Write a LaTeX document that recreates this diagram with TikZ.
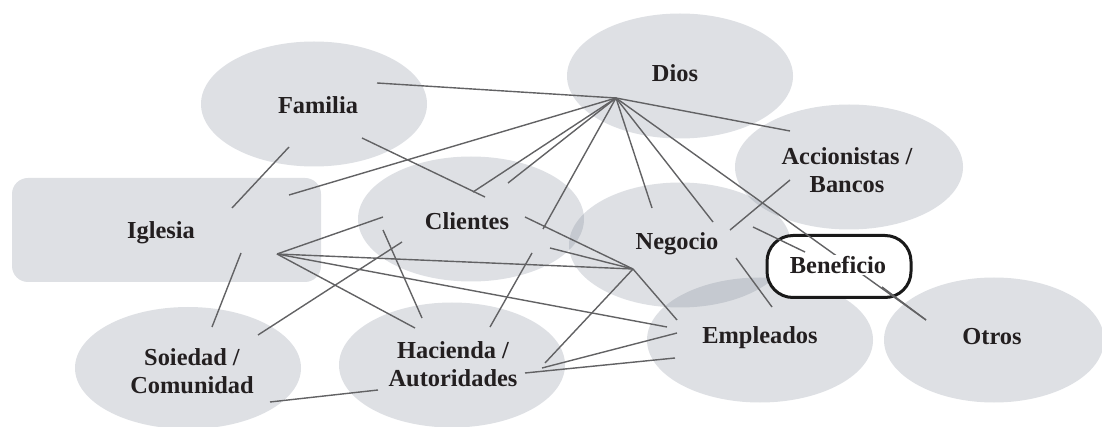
\documentclass[tikz,border=0pt]{standalone}
\usepackage{fontspec}
\setmainfont{Liberation Serif}
\usetikzlibrary{shapes.geometric}
\definecolor{blobc}{RGB}{117,126,142}
\definecolor{ink}{RGB}{35,31,32}
\definecolor{wirec}{RGB}{98,98,100}
\begin{document}
\begin{tikzpicture}[x=1pt,y=-1pt,
  blob/.style={ellipse, fill=blobc, fill opacity=0.24, text opacity=1, minimum width=226pt, minimum height=125pt, inner sep=0pt},
  lab/.style={font=\bfseries\fontsize{24.4}{27.5}\selectfont, text=ink, align=center, inner sep=0pt},
  wire/.style={draw=wirec, line width=1.4pt}]
\useasboundingbox (0,0) rectangle (1102,427);
% shapes
\node[blob] (diosE) at (680,76) {};
\node[blob] (familiaE) at (314,104) {};
\node[blob, minimum width=228pt] (accE) at (849,167) {};
\node[rectangle, rounded corners=16pt, fill=blobc, fill opacity=0.24, minimum width=309pt, minimum height=104pt, inner sep=0pt] (iglesiaR) at (166.5,230) {};
\node[blob] (clientesE) at (471,219) {};
\node[blob, minimum width=222pt] (negocioE) at (680,245) {};
\node[blob] (empleadosE) at (760,340) {};
\node[blob, minimum width=220pt] (otrosE) at (994,340) {};
\node[blob, minimum height=122pt] (soiedadE) at (188,368) {};
\node[blob] (haciendaE) at (452,365) {};
\node[rectangle, rounded corners=26pt, draw=black!90, line width=3pt, fill=white, minimum width=144pt, minimum height=62pt, inner sep=0pt] (benefBox) at (839,266.5) {};
% connector ends
\coordinate (hD) at (616,98);
\coordinate (hI) at (277,254);
\coordinate (hN) at (633,269);
\coordinate (fD) at (377,83);
\coordinate (iD) at (289,195);
\coordinate (cD1) at (473,192);
\coordinate (cD2) at (508,183);
\coordinate (cD3) at (543,229);
\coordinate (nD1) at (652,208);
\coordinate (nD2) at (713,222);
\coordinate (aD) at (790,131);
\coordinate (oT) at (926,320);
\coordinate (fI1) at (289,147);
\coordinate (fI2) at (232,208);
\coordinate (fC1) at (362,138);
\coordinate (fC2) at (485,197);
\coordinate (cI) at (383,217);
\coordinate (eI) at (667,327);
\coordinate (hI2) at (415,328);
\coordinate (iS1) at (241,253);
\coordinate (iS2) at (212,327);
\coordinate (cH1) at (383,230);
\coordinate (cH2) at (422,318);
\coordinate (cS1) at (402,242);
\coordinate (cS2) at (258,335);
\coordinate (cH3) at (532,253);
\coordinate (cH4) at (490,327);
\coordinate (cN1) at (525,217);
\coordinate (cN2) at (550,248);
\coordinate (hN2) at (545,363);
\coordinate (eN) at (677,320);
\coordinate (hE1) at (542,368);
\coordinate (eH1) at (677,333);
\coordinate (hE2) at (525,373);
\coordinate (eH2) at (675,358);
\coordinate (sH1) at (270,402);
\coordinate (sH2) at (378,390);
\coordinate (nA1) at (730,230);
\coordinate (nA2) at (790,180);
\coordinate (nB1) at (753,227);
\coordinate (nB2) at (805,252);
\coordinate (nE1) at (736,258);
\coordinate (nE2) at (772,307);
\coordinate (bO) at (882,287);
% connectors
\draw[wire] (hD) -- (fD);
\draw[wire] (hD) -- (iD);
\draw[wire] (hD) -- (cD1);
\draw[wire] (hD) -- (cD2);
\draw[wire] (hD) -- (cD3);
\draw[wire] (hD) -- (nD1);
\draw[wire] (hD) -- (nD2);
\draw[wire] (hD) -- (aD);
\draw[wire] (hD) -- (oT);
\draw[wire] (fI1) -- (fI2);
\draw[wire] (fC1) -- (fC2);
\draw[wire] (hI) -- (cI);
\draw[wire] (hI) -- (hN);
\draw[wire] (hI) -- (eI);
\draw[wire] (hI) -- (hI2);
\draw[wire] (iS1) -- (iS2);
\draw[wire] (cH1) -- (cH2);
\draw[wire] (cS1) -- (cS2);
\draw[wire] (cH3) -- (cH4);
\draw[wire] (cN1) -- (hN);
\draw[wire] (cN2) -- (hN);
\draw[wire] (hN) -- (hN2);
\draw[wire] (hN) -- (eN);
\draw[wire] (hE1) -- (eH1);
\draw[wire] (hE2) -- (eH2);
\draw[wire] (sH1) -- (sH2);
\draw[wire] (nA1) -- (nA2);
\draw[wire] (nB1) -- (nB2);
\draw[wire] (nE1) -- (nE2);
\draw[wire] (bO) -- (oT);
% labels
\node[lab] (dios) at (675,73) {Dios};
\node[lab] (familia) at (318,105) {Familia};
\node[lab] (acc) at (847,170) {Accionistas /\\Bancos};
\node[lab] (iglesia) at (161,233) {Iglesia};
\node[lab] (clientes) at (467,221) {Clientes};
\node[lab] (negocio) at (677,244) {Negocio};
\node[lab] (empleados) at (760,338) {Empleados};
\node[lab] (otros) at (992,337) {Otros};
\node[lab] (soiedad) at (192,371) {Soiedad /\\Comunidad};
\node[lab] (hacienda) at (453,364) {Hacienda /\\Autoridades};
\node[lab, fill=white, inner sep=1pt] (beneficio) at (838,265) {Beneficio};
\end{tikzpicture}
\end{document}
